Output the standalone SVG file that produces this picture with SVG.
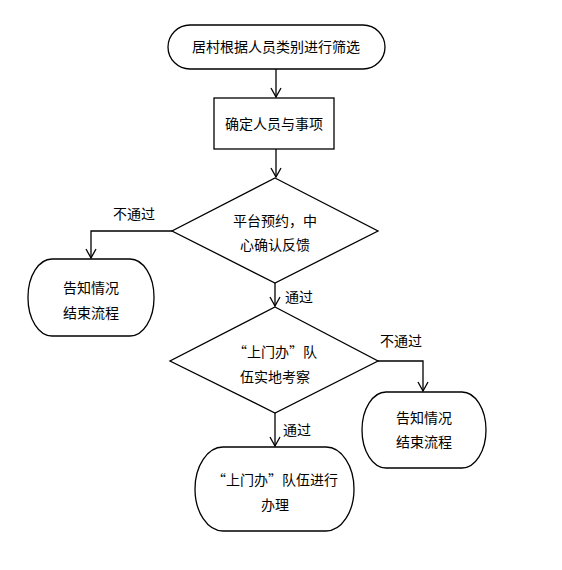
<svg xmlns="http://www.w3.org/2000/svg" width="562" height="570" viewBox="0 0 562 570">
<style>
.s{fill:#fff;stroke:#000;stroke-width:1.3}
.t{font-family:"Noto Sans CJK SC","Microsoft YaHei",sans-serif;font-size:14px;fill:#000;text-anchor:middle}
.l{font-family:"Noto Sans CJK SC","Microsoft YaHei",sans-serif;font-size:14px;fill:#000}
.c{fill:none;stroke:#000;stroke-width:1.3}
</style>
<defs>
<marker id="a" markerWidth="12" markerHeight="12" refX="11" refY="6" orient="auto" markerUnits="userSpaceOnUse" viewBox="0 0 12 12">
<path d="M2,1 L11,6 L2,11" fill="none" stroke="#000" stroke-width="1.3"/>
</marker>
</defs>
<rect width="562" height="570" fill="#fff"/>
<g id="connectors">
<path class="c" d="M276,69 V97" marker-end="url(#a)"/>
<path class="c" d="M276,149 V177" marker-end="url(#a)"/>
<path class="c" d="M172,231 H91 V258" marker-end="url(#a)"/>
<path class="c" d="M275,283 V306" marker-end="url(#a)"/>
<path class="c" d="M378,361 H423 V391" marker-end="url(#a)"/>
<path class="c" d="M275,413 V446" marker-end="url(#a)"/>
<text class="l" x="113" y="219">不通过</text>
<text class="l" x="285" y="302">通过</text>
<text class="l" x="380" y="346">不通过</text>
<text class="l" x="283" y="435">通过</text>
</g>
<g id="start">
<rect class="s" x="168" y="25" width="217" height="44" rx="22" ry="22"/>
<text class="t" x="276" y="52">居村根据人员类别进行筛选</text>
</g>
<g id="confirm">
<rect class="s" x="214" y="98" width="120" height="51"/>
<text class="t" x="274" y="129">确定人员与事项</text>
</g>
<g id="decision1">
<polygon class="s" points="275,178 378,231 275,283 172,231"/>
<text class="t" x="275" y="226">平台预约，中</text>
<text class="t" x="275" y="250">心确认反馈</text>
</g>
<g id="end1">
<rect class="s" x="28" y="259" width="126" height="77" rx="24" ry="38"/>
<text class="t" x="91" y="293">告知情况</text>
<text class="t" x="91" y="318">结束流程</text>
</g>
<g id="decision2">
<polygon class="s" points="275,307 378,361 275,413 170,361"/>
<text class="t" x="275" y="357">“上门办”队</text>
<text class="t" x="275" y="382">伍实地考察</text>
</g>
<g id="end2">
<rect class="s" x="362" y="392" width="124" height="76" rx="24" ry="38"/>
<text class="t" x="424" y="423">告知情况</text>
<text class="t" x="424" y="447">结束流程</text>
</g>
<g id="handle">
<rect class="s" x="195" y="447" width="159" height="84" rx="28" ry="42"/>
<text class="t" x="275" y="485">“上门办”队伍进行</text>
<text class="t" x="275" y="510">办理</text>
</g>
</svg>
